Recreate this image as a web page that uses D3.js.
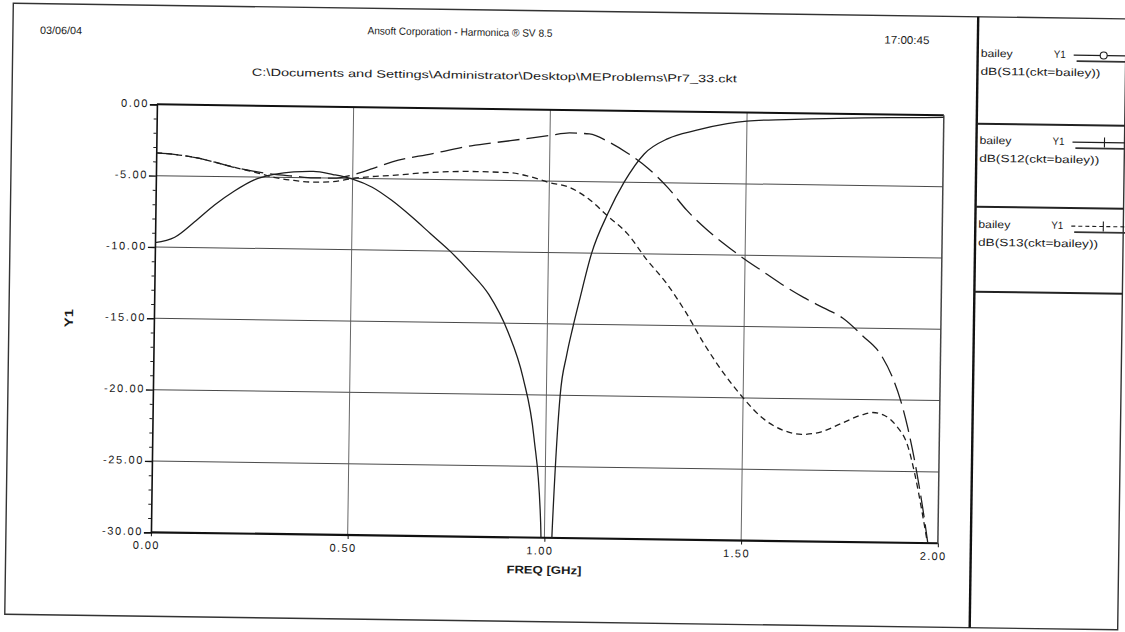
<!DOCTYPE html>
<html><head><meta charset="utf-8">
<script src="https://cdn.jsdelivr.net/npm/d3@7"></script>
<style>
body{margin:0;background:#fff}
svg{display:block}
text{font-family:"Liberation Sans",Arial,sans-serif;fill:#1a1a1a}
</style>
</head><body>
<svg id="c" width="1125" height="632"></svg>
<script>
// ---- data ----
const xTicks = [0, 0.5, 1, 1.5, 2];
const yTicks = [0, -5, -10, -15, -20, -25, -30];
const yMinor = [-1,-2,-3,-4,-6,-7,-8,-9,-11,-12,-13,-14,-16,-17,-18,-19,-21,-22,-23,-24,-26,-27,-28,-29];

const s11Freq = [0,0.05,0.1,0.15,0.2,0.25,0.3,0.35,0.4,0.45,0.5,0.55,0.6,0.65,0.7,0.75,0.8,0.85,0.9,0.94,0.97,0.99,1.005,1.02,1.035,1.05,1.065,1.08,1.11,1.15,1.19,1.24,1.3,1.37,1.45,1.5,1.6,1.7,1.8,1.9,2.0];
const s11Db   = [-9.7,-9.3,-8.2,-7.0,-6.0,-5.2,-4.8,-4.6,-4.55,-4.75,-5.05,-5.6,-6.5,-7.6,-8.8,-10.0,-11.4,-13.0,-15.6,-18.8,-23,-29,-45,-29,-20,-17.2,-15.2,-13.4,-10,-7.2,-5.0,-3.0,-1.9,-1.3,-0.8,-0.6,-0.45,-0.35,-0.25,-0.2,-0.15];

const s12Freq = [0,0.05,0.1,0.15,0.2,0.25,0.3,0.35,0.4,0.45,0.5,0.55,0.6,0.7,0.8,0.9,1.0,1.05,1.1,1.15,1.2,1.25,1.3,1.35,1.4,1.45,1.5,1.55,1.6,1.65,1.7,1.75,1.8,1.85,1.88,1.9,1.92,1.94,1.96,1.98];
const s12Db   = [-3.4,-3.5,-3.7,-4.0,-4.35,-4.6,-4.8,-4.9,-5.0,-5.0,-4.75,-4.3,-3.8,-3.2,-2.6,-2.2,-1.8,-1.6,-1.65,-2.2,-3.0,-4.0,-5.3,-6.9,-8.2,-9.3,-10.3,-11.2,-12.1,-12.9,-13.6,-14.3,-15.5,-16.9,-18.5,-20,-22,-24.5,-27.5,-31];

const s13Freq = [0,0.05,0.1,0.15,0.2,0.25,0.3,0.35,0.4,0.45,0.5,0.55,0.6,0.7,0.8,0.9,0.95,1.0,1.05,1.1,1.15,1.2,1.25,1.3,1.35,1.4,1.45,1.5,1.55,1.6,1.65,1.7,1.75,1.8,1.83,1.86,1.89,1.92,1.94,1.96,1.98];
const s13Db   = [-3.4,-3.5,-3.7,-4.0,-4.35,-4.65,-5.0,-5.2,-5.3,-5.25,-5.0,-4.85,-4.75,-4.5,-4.4,-4.45,-4.7,-5.1,-5.4,-6.2,-7.4,-8.6,-10.4,-12.0,-14.0,-16.3,-18.3,-20.0,-21.4,-22.2,-22.5,-22.3,-21.7,-21.1,-20.9,-21.1,-21.8,-23.2,-25.3,-28,-31];

const legendNames = ["dB(S11(ckt=bailey))", "dB(S12(ckt=bailey))", "dB(S13(ckt=bailey))"];
const legendCkt = "bailey";
const legendAxis = "Y1";
const dateText = "03/06/04";
const titleText = "Ansoft Corporation - Harmonica \u00AE SV 8.5";
const timeText = "17:00:45";
const pathText = "C:\\Documents and Settings\\Administrator\\Desktop\\MEProblems\\Pr7_33.ckt";
const xTitle = "FREQ [GHz]";
const yTitle = "Y1";

// ---- layout ----
const svg = d3.select("#c");
const root = svg.append("g").attr("transform", "rotate(0.8,562,316)");
const L = 154, R = 941, T = 110, B = 538;
const x = d3.scaleLinear().domain([0, 2]).range([L, R]);
const y = d3.scaleLinear().domain([-30, 0]).range([B, T]);
const ink = "#1e1e1e";

// outer frame
root.append("rect").attr("x", 9).attr("y", 11).attr("width", 1113).attr("height", 611)
  .attr("fill", "none").attr("stroke", "#333").attr("stroke-width", 1.4);
// legend divider
root.append("line").attr("x1", 974).attr("x2", 974).attr("y1", 11).attr("y2", 622)
  .attr("stroke", "#111").attr("stroke-width", 2.4);
[118, 201, 286].forEach(v => root.append("line").attr("x1", 974).attr("x2", 1122)
  .attr("y1", v).attr("y2", v).attr("stroke", "#222").attr("stroke-width", 2));

// header texts
root.append("text").attr("x", 36).attr("y", 41).attr("font-size", 10.5).text(dateText)
  .attr("textLength", 42).attr("lengthAdjust", "spacingAndGlyphs");
root.append("text").attr("x", 456).attr("y", 37).attr("font-size", 10.5).attr("text-anchor", "middle")
  .attr("textLength", 185).attr("lengthAdjust", "spacingAndGlyphs").text(titleText);
root.append("text").attr("x", 903).attr("y", 39).attr("font-size", 11).attr("text-anchor", "middle")
  .attr("textLength", 45).attr("lengthAdjust", "spacingAndGlyphs").text(timeText);
root.append("text").attr("x", 491).attr("y", 80).attr("font-size", 10.5).attr("text-anchor", "middle")
  .attr("textLength", 485).attr("lengthAdjust", "spacingAndGlyphs").text(pathText);

// grid
const grid = root.append("g");
grid.selectAll("line.h").data(yTicks.filter(d => d !== 0 && d !== -30)).join("line")
  .attr("x1", L).attr("x2", R).attr("y1", d => y(d)).attr("y2", d => y(d))
  .attr("stroke", "#4a4a4a").attr("stroke-width", 1);
grid.selectAll("line.v").data(xTicks.filter(d => d !== 0 && d !== 2)).join("line")
  .attr("y1", T).attr("y2", B).attr("x1", d => x(d)).attr("x2", d => x(d))
  .attr("stroke", "#555").attr("stroke-width", 0.9);

// plot border
root.append("line").attr("x1", L).attr("x2", R).attr("y1", T).attr("y2", T).attr("stroke", "#111").attr("stroke-width", 2);
root.append("line").attr("x1", L).attr("x2", R).attr("y1", B).attr("y2", B).attr("stroke", "#111").attr("stroke-width", 2.2);
root.append("line").attr("x1", R).attr("x2", R).attr("y1", T).attr("y2", B).attr("stroke", "#444").attr("stroke-width", 1.5);

// axes
const yAxis = root.append("g").attr("transform", `translate(${L},0)`)
  .call(d3.axisLeft(y).tickValues(yTicks).tickSize(7).tickPadding(1).tickFormat(d => d.toFixed(2)));
yAxis.select(".domain").attr("stroke", "#111").attr("stroke-width", 1.6);
yAxis.selectAll(".tick line").attr("stroke", "#111").attr("stroke-width", 1.4);
yAxis.selectAll(".tick text").attr("font-size", 11).attr("fill", "#111").attr("dy", "0.22em")
  .style("letter-spacing", "1.6px").style("font-family", "'Liberation Sans',Arial,sans-serif");
const yMin = root.append("g").attr("transform", `translate(${L},0)`)
  .call(d3.axisLeft(y).tickValues(yMinor).tickSize(3).tickFormat(""));
yMin.select(".domain").remove();
yMin.selectAll(".tick line").attr("stroke", "#222");

const xAxis = root.append("g").attr("transform", `translate(0,${B})`)
  .call(d3.axisBottom(x).tickValues(xTicks).tickSize(4).tickPadding(5).tickFormat(d => d.toFixed(2)));
xAxis.select(".domain").remove();
xAxis.selectAll(".tick line").attr("stroke", "#111");
xAxis.selectAll(".tick text").attr("font-size", 11).attr("fill", "#111").attr("dx", -5)
  .style("letter-spacing", "1.4px").style("font-family", "'Liberation Sans',Arial,sans-serif");

root.append("text").attr("x", (L + R) / 2).attr("y", 574).attr("text-anchor", "middle")
  .attr("font-size", 11).attr("font-weight", "bold").attr("textLength", 75)
  .attr("lengthAdjust", "spacingAndGlyphs").text(xTitle);
root.append("text").attr("transform", "translate(73,325) rotate(-90)").attr("text-anchor", "middle")
  .attr("font-size", 12).attr("font-weight", "bold").attr("textLength", 18)
  .attr("lengthAdjust", "spacingAndGlyphs").text(yTitle);

// curves
svg.append("defs").append("clipPath").attr("id", "clip")
  .append("rect").attr("x", L).attr("y", T).attr("width", R - L).attr("height", B - T);
const plot = root.append("g").attr("clip-path", "url(#clip)");
const line = d3.line().x(d => x(d[0])).y(d => y(d[1])).curve(d3.curveMonotoneX);
const series = [
  {f: s11Freq, v: s11Db, dash: null},
  {f: s12Freq, v: s12Db, dash: "22,7"},
  {f: s13Freq, v: s13Db, dash: "6,4"}
];
series.forEach(s => {
  plot.append("path").datum(d3.zip(s.f, s.v)).attr("d", line)
    .attr("fill", "none").attr("stroke", ink).attr("stroke-width", 1.3)
    .attr("stroke-dasharray", s.dash);
});

// legend
const legY = [51, 138, 222];
legendNames.forEach((name, i) => {
  const g = root.append("g");
  const by = legY[i];
  g.append("text").attr("x", 977).attr("y", by).attr("font-size", 10.5)
    .attr("textLength", 32).attr("lengthAdjust", "spacingAndGlyphs").text(legendCkt);
  g.append("text").attr("x", 1050).attr("y", by).attr("font-size", 10.5)
    .attr("textLength", 12).attr("lengthAdjust", "spacingAndGlyphs").text(legendAxis);
  g.append("text").attr("x", 977).attr("y", by + 18).attr("font-size", 10.5)
    .attr("textLength", 120).attr("lengthAdjust", "spacingAndGlyphs").text(name);
  g.append("line").attr("x1", 1070).attr("x2", 1125).attr("y1", by - 3).attr("y2", by - 3)
    .attr("stroke", ink).attr("stroke-width", 1.1).attr("stroke-dasharray", i === 2 ? "4,3" : null);
  g.append("line").attr("x1", 1073).attr("x2", 1125).attr("y1", by + 3).attr("y2", by + 3)
    .attr("stroke", "#333").attr("stroke-width", 1.8);
  if (i === 0) g.append("circle").attr("cx", 1100).attr("cy", by - 3).attr("r", 3.5)
    .attr("fill", "#fff").attr("stroke", ink).attr("stroke-width", 1.1);
  else g.append("line").attr("x1", 1102).attr("x2", 1102).attr("y1", by - 8).attr("y2", by + 2)
    .attr("stroke", ink).attr("stroke-width", 1.1);
});
</script>
</body></html>
